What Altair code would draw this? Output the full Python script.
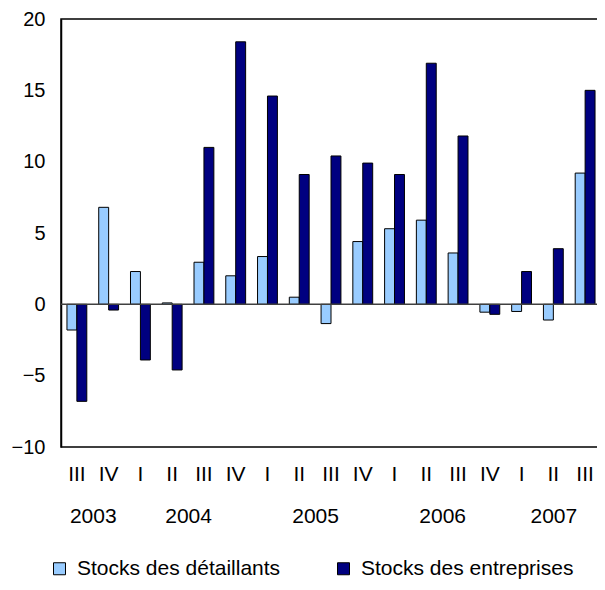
import altair as alt
import pandas as pd

quarters = ["III", "IV", "I", "II", "III", "IV", "I", "II", "III", "IV",
            "I", "II", "III", "IV", "I", "II", "III"]
years = [2003, 2003, 2004, 2004, 2004, 2004, 2005, 2005, 2005, 2005,
         2006, 2006, 2006, 2006, 2007, 2007, 2007]
detaillants = [-1.8, 6.8, 2.3, 0.1, 2.95, 2.0, 3.35, 0.5, -1.35, 4.4,
               5.3, 5.9, 3.6, -0.55, -0.5, -1.1, 9.2]
entreprises = [-6.8, -0.4, -3.9, -4.6, 11.0, 18.4, 14.6, 9.1, 10.4, 9.9,
               9.1, 16.9, 11.8, -0.7, 2.3, 3.9, 15.0]
series = ["Stocks des détaillants", "Stocks des entreprises"]
colors = ["#99CCFF", "#000080"]

FONT = "Liberation Sans Narrow, Arial Narrow, Liberation Sans, Arial"

keys = [f"{i:02d} {q}" for i, q in enumerate(quarters)]
rows = []
for i, k in enumerate(keys):
    rows.append({"key": k, "series": series[0], "value": detaillants[i]})
    rows.append({"key": k, "series": series[1], "value": entreprises[i]})
df = pd.DataFrame(rows)

# year label positions = centre of the quarters belonging to each year
uyears = sorted(set(years))
ypos = []
for y in uyears:
    idx = [i for i, yy in enumerate(years) if yy == y]
    ypos.append((min(idx) + max(idx)) / 2 + 0.5)
df_years = pd.DataFrame({"year": [str(y) for y in uyears], "pos": ypos})
label_map = "{" + ",".join(f"'{p:g}':'{y}'" for p, y in zip(ypos, uyears)) + "}"

bars = alt.Chart(df).mark_bar(stroke="black", strokeWidth=1).encode(
    x=alt.X("key:N", sort=keys, title=None,
            scale=alt.Scale(paddingInner=0.375, paddingOuter=0.1875),
            axis=alt.Axis(labelExpr="split(datum.label, ' ')[1]", labelAngle=0,
                          ticks=False, domain=False, labelPadding=16,
                          labelBaseline="top")),
    xOffset=alt.XOffset("series:N", sort=series),
    y=alt.Y("value:Q", title=None,
            scale=alt.Scale(domain=[-10, 20], nice=False),
            axis=alt.Axis(values=[-10, -5, 0, 5, 10, 15, 20], ticks=False,
                          grid=False, domainColor="black", domainWidth=1.5,
                          labelPadding=16, labelFontSize=20)),
    color=alt.Color("series:N", sort=series,
                    scale=alt.Scale(domain=series, range=colors),
                    legend=alt.Legend(title=None, orient="none", legendX=-12,
                                      legendY=539, direction="horizontal",
                                      symbolType="square", symbolSize=144,
                                      symbolStrokeColor="black",
                                      symbolStrokeWidth=1, columnPadding=52,
                                      labelOffset=7,
                                      labelFontSize=21, labelFont=FONT,
                                      labelLimit=0, labelColor="black")),
)

zero = alt.Chart(pd.DataFrame({"z": [0]})).mark_rule(
    color="#404040", strokeWidth=1.5).encode(y="z:Q")

year_axis = alt.Chart(df_years).mark_point(opacity=0).encode(
    x=alt.X("pos:Q", title=None,
            scale=alt.Scale(domain=[0, len(quarters)], nice=False, zero=False),
            axis=alt.Axis(orient="bottom", values=ypos,
                          labelExpr=f"{label_map}[datum.value + '']",
                          ticks=False, domain=False, grid=False,
                          labelPadding=58, labelBaseline="top")),
)

chart = alt.layer(bars, zero, year_axis).resolve_scale(x="independent").properties(
    width=540, height=428,
    background="white",
    autosize=alt.AutoSizeParams(type="none"),
    padding={"left": 53, "top": 11, "right": -4, "bottom": 135},
).configure_view(
    stroke="black", strokeWidth=1.5
).configure_axis(
    labelFont=FONT, labelFontSize=21, labelColor="black"
)

chart.save("out.html", embed_options={"renderer": "svg", "actions": False})
